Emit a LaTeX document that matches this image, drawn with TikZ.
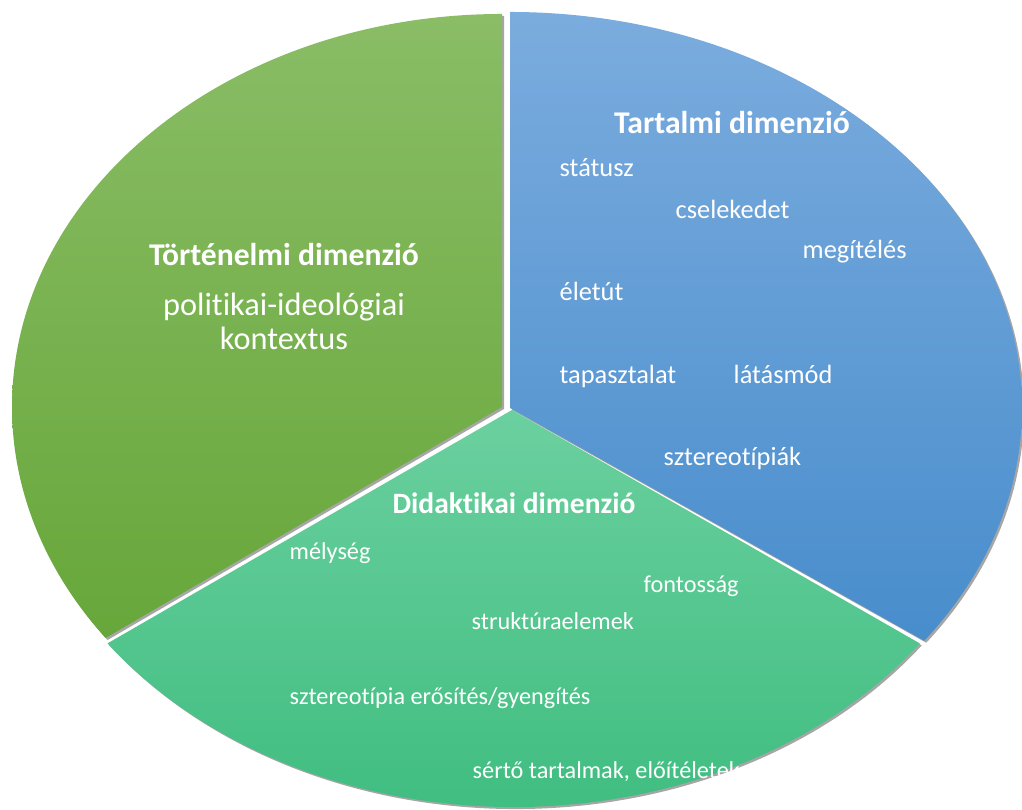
\documentclass[tikz,border=0pt]{standalone}
\usepackage{fontspec}
\setmainfont{Carlito}[Ligatures=NoCommon]
\usetikzlibrary{shadows}

\definecolor{histtop}{HTML}{8ABD66}
\definecolor{histbot}{HTML}{67A73A}
\definecolor{conttop}{HTML}{7BACDE}
\definecolor{contbot}{HTML}{488DCC}
\definecolor{didtop}{HTML}{6BD09F}
\definecolor{didbot}{HTML}{3FBD80}

\tikzset{
  sector/.style={drop shadow={shadow xshift=2, shadow yshift=-2, opacity=0.35, fill=black}},
  head/.style={text=white, font=\fontsize{9}{11}\selectfont\bfseries, inner sep=0pt, anchor=mid},
  bigitem/.style={text=white, font=\fontsize{9.2}{11}\selectfont, inner sep=0pt, anchor=mid},
  item/.style={text=white, font=\fontsize{7.5}{9}\selectfont, inner sep=0pt, anchor=mid west},
  smallitem/.style={text=white, font=\fontsize{6.9}{8}\selectfont, inner sep=0pt, anchor=mid west}
}

\begin{document}
\begin{tikzpicture}[x=0.01cm, y=0.01cm]

\useasboundingbox (0,0) rectangle (1022,810);

% Tartalmi szelet
\draw[sector, draw=none, top color=conttop, bottom color=contbot]
  (510,402) -- (510,798) arc[start angle=90, end angle=-36, x radius=512, y radius=396] -- cycle;

% Didaktikai szelet
\draw[sector, draw=none, top color=didtop, bottom color=didbot]
  (512,400) -- (107.5,166.6) arc[start angle=216, end angle=324, x radius=502, y radius=397] -- cycle;

% Tortenelmi szelet
\draw[sector, draw=none, top color=histtop, bottom color=histbot]
  (502,403) -- (502,796) arc[start angle=90, end angle=216, x radius=490, y radius=393] -- cycle;

% Tortenelmi dimenzio
\node[head] (hist) at (284,553) {Történelmi dimenzió};
\node[bigitem] (polit) at (284,503) {politikai-ideológiai};
\node[bigitem] (kontext) at (284,469) {kontextus};

% Tartalmi dimenzio
\node[head] (cont) at (732,685) {Tartalmi dimenzió};
\node[item] (status) at (559,642) {státusz};
\node[item] (cselek) at (675,600) {cselekedet};
\node[item] (megit) at (802,560) {megítélés};
\node[item] (eletut) at (559,518) {életút};
\node[item] (tapaszt) at (559,435) {tapasztalat};
\node[item] (latasm) at (733,435) {látásmód};
\node[item] (sztereok) at (663,353) {sztereotípiák};

% Didaktikai dimenzio
\node[head, font=\fontsize{8.4}{10}\selectfont\bfseries] (did) at (514,305) {Didaktikai dimenzió};
\node[smallitem] (melys) at (289,259) {mélység};
\node[smallitem] (fontos) at (643,226) {fontosság};
\node[smallitem] (strukt) at (471,189) {struktúraelemek};
\node[smallitem] (erosit) at (289,114) {sztereotípia erősítés/gyengítés};
\node[smallitem] (serto) at (472,40) {sértő tartalmak, előítéletek};

\end{tikzpicture}
\end{document}
